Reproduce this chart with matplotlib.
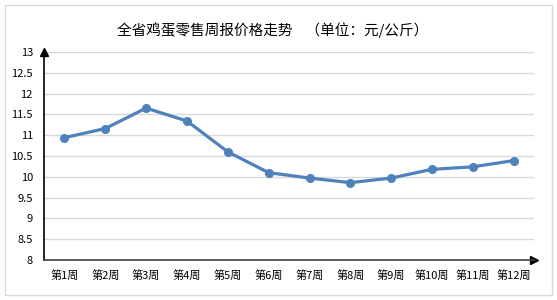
import matplotlib
matplotlib.use('Agg')
import matplotlib.pyplot as plt
from matplotlib.patches import Rectangle

plt.rcParams['font.family'] = ['Noto Sans CJK SC', 'DejaVu Sans']

# 数据
weeks = ['第1周', '第2周', '第3周', '第4周', '第5周', '第6周',
         '第7周', '第8周', '第9周', '第10周', '第11周', '第12周']
prices = [10.94, 11.16, 11.65, 11.34, 10.60, 10.10,
          9.97, 9.86, 9.97, 10.18, 10.24, 10.39]
yticks = [8, 8.5, 9, 9.5, 10, 10.5, 11, 11.5, 12, 12.5, 13]
ytick_labels = ['8', '8.5', '9', '9.5', '10', '10.5', '11', '11.5', '12', '12.5', '13']

fig = plt.figure(figsize=(5.57, 3.0), dpi=100)
ax = fig.add_axes([0.079, 0.133, 0.88, 0.694])

# 外边框
fig.patches.append(Rectangle((0.009, 0.017), 0.982, 0.966, transform=fig.transFigure,
                             fill=False, edgecolor='#d9d9d9', linewidth=1))

xs = [i + 0.5 for i in range(len(weeks))]
ax.plot(xs, prices, color='#4f81bd', linewidth=2.3, marker='o', markersize=5.5,
        solid_joinstyle='round', solid_capstyle='round', zorder=3)

ax.set_xlim(0, len(weeks))
ax.set_ylim(8, 13)
ax.set_yticks(yticks)
ax.set_yticklabels(ytick_labels, fontsize=8)
ax.set_xticks(xs)
ax.set_xticklabels(weeks, fontsize=8)
ax.tick_params(length=0, pad=7)
ax.tick_params(axis='y', pad=8)

for y in yticks[1:]:
    ax.axhline(y, color='#d9d9d9', linewidth=1, zorder=1)

for s in ['top', 'right']:
    ax.spines[s].set_visible(False)
ax.spines['left'].set_color('black')
ax.spines['bottom'].set_color('#404040')
ax.spines['left'].set_linewidth(1.2)
ax.spines['bottom'].set_linewidth(1.2)

# 坐标轴箭头
ax.plot(0, 1, '^k', markersize=6, transform=ax.transAxes, clip_on=False)
ax.plot(1, 0, '>k', markersize=6, transform=ax.transAxes, clip_on=False)

fig.text(0.49, 0.9, '全省鸡蛋零售周报价格走势    （单位：元/公斤）',
         ha='center', va='center', fontsize=10.5)

fig.savefig('out.png', dpi=100)
